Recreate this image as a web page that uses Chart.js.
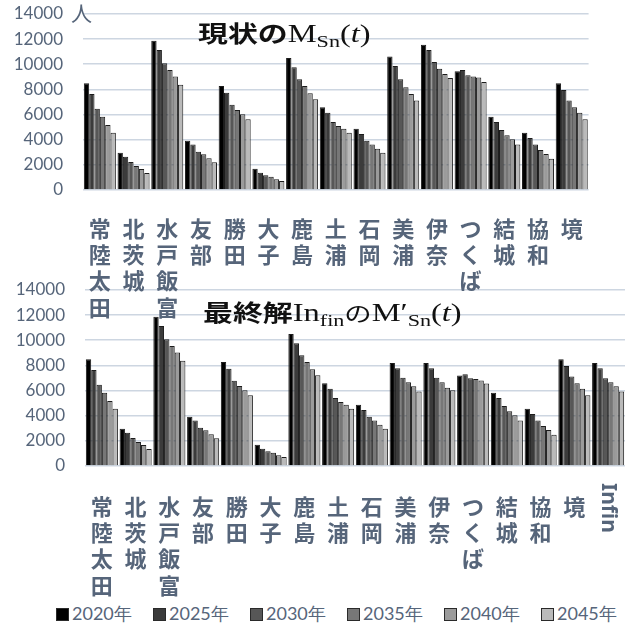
<!DOCTYPE html>
<html>
<head>
<meta charset="utf-8">
<script src="https://cdn.jsdelivr.net/npm/chart.js@4.4.1/dist/chart.umd.min.js"></script>
<style>
  body { margin: 0; background: #fff; width: 630px; height: 623px; position: relative; overflow: hidden; }
  #boxTop { position: absolute; left: 0; top: 0; width: 600px; height: 320px; z-index: 2; }
  #boxBottom { position: absolute; left: 0; top: 280px; width: 630px; height: 320px; z-index: 1; }
  .unit { position: absolute; left: 71px; top: -3px; font: 21px "Noto Sans CJK JP"; color: #56657a; z-index: 3; }
  .ttl { position: absolute; white-space: nowrap; z-index: 3; color: #111; transform: scaleX(1.3); transform-origin: left center; }
  .ttl .jp { font-family: "Noto Sans CJK JP"; font-weight: 700; font-size: 23px; }
  .ttl .jpl { font-family: "Noto Sans CJK JP"; font-weight: 400; font-size: 21px; }
  .ttl .m { font-family: "Liberation Serif"; font-size: 25px; }
  .ttl sub { font-size: 17px; vertical-align: -5px; line-height: 0; }
  #ttlTop { left: 198px; top: 15px; }
  #ttlBottom { left: 203px; top: 294px; }
  #legend { position: absolute; left: 56px; top: 602px; z-index: 3; display: flex; }
  #legend .item { width: 97px; display: flex; align-items: center; font: 18px Lato; color: #56657a; }
  #legend .sw { width: 11px; height: 11px; border: 1px solid #2a2a2a; margin-right: 3px; }
</style>
</head>
<body>
<div class="unit">人</div>
<div class="ttl" id="ttlTop"><span class="jp">現状の</span><span class="m">M<sub>Sn</sub>(<i>t</i>)</span></div>
<div class="ttl" id="ttlBottom"><span class="jp">最終解</span><span class="m">In<sub>fin</sub></span><span class="jpl">の</span><span class="m">M′<sub>Sn</sub>(<i>t</i>)</span></div>
<div id="boxTop"><canvas id="chartNow"></canvas></div>
<div id="boxBottom"><canvas id="chartFinal"></canvas></div>
<div id="legend"></div>

<script>
// 地区名
const cities = ['常陸太田', '北茨城', '水戸飯富', '友部', '勝田', '大子', '鹿島', '土浦', '石岡', '美浦', '伊奈', 'つくば', '結城', '協和', '境'];
const finalCities = [...cities, 'Infin'];
const years = ['2020年', '2025年', '2030年', '2035年', '2040年', '2045年'];
const yTicks = [0, 2000, 4000, 6000, 8000, 10000, 12000, 14000];

// 現状 (人)
const now2020 = [8490, 2970, 11880, 3920, 8270, 1700, 10500, 6580, 4880, 10610, 11560, 9440, 5830, 4560, 8490];
const now2025 = [7640, 2650, 11140, 3610, 7740, 1380, 9760, 6150, 4450, 9860, 11140, 9550, 5410, 4140, 7960];
const now2030 = [6470, 2230, 10080, 3050, 6790, 1170, 8800, 5410, 3920, 8800, 10180, 9120, 4770, 3610, 7110];
const now2035 = [5830, 1910, 9550, 2840, 6360, 1060, 8270, 5090, 3610, 8170, 9650, 9020, 4350, 3180, 6580];
const now2040 = [5170, 1670, 9020, 2520, 6020, 850, 7690, 4880, 3290, 7640, 9230, 8940, 4030, 2860, 6150];
const now2045 = [4560, 1350, 8380, 2200, 5620, 720, 7210, 4560, 2970, 7110, 8910, 8590, 3610, 2490, 5620];

// 最終解 (Infin を追加)
const fin2020 = [8490, 2970, 11880, 3920, 8270, 1700, 10500, 6580, 4880, 8200, 8200, 7200, 5830, 4560, 8490, 8200];
const fin2025 = [7640, 2650, 11140, 3610, 7740, 1380, 9760, 6150, 4450, 7780, 7780, 7300, 5410, 4140, 7960, 7780];
const fin2030 = [6470, 2230, 10080, 3050, 6790, 1170, 8800, 5410, 3920, 7010, 7010, 6980, 4770, 3610, 7110, 6980];
const fin2035 = [5830, 1910, 9550, 2840, 6360, 1060, 8270, 5090, 3610, 6670, 6670, 6930, 4350, 3180, 6580, 6670];
const fin2040 = [5170, 1670, 9020, 2520, 6020, 850, 7690, 4880, 3290, 6350, 6220, 6800, 4030, 2860, 6150, 6350];
const fin2045 = [4560, 1350, 8380, 2200, 5620, 720, 7210, 4560, 2970, 5930, 6030, 6560, 3610, 2490, 5620, 5930];

const fills = ['#000000', '#3b3b3b', '#575757', '#777777', '#9b9b9b', '#bababa'];
const tickColor = '#56657a';

function makeSets(rows) {
    return rows.map((d, i) => ({
        label: years[i],
        data: d,
        backgroundColor: fills[i],
        borderColor: '#1c1c1c',
        borderWidth: 1,
        categoryPercentage: 0.95,
        barPercentage: 1.0
    }));
}

// 縦書きにならないラベル (Infin) を回転して描く
const sideLabel = {
    id: 'sideLabel',
    afterDraw(chart, args, opts) {
        if (!opts.text) return;
        const { ctx, chartArea } = chart;
        const x = chart.scales.x.getPixelForValue(opts.index);
        ctx.save();
        ctx.translate(x, chartArea.bottom + 17);
        ctx.rotate(Math.PI / 2);
        ctx.font = 'bold 21px "Noto Sans"';
        ctx.fillStyle = tickColor;
        ctx.textAlign = 'left';
        ctx.textBaseline = 'middle';
        ctx.fillText(opts.text, 0, 0);
        ctx.restore();
    }
};

function makeChart(id, labels, rows, cfg) {
    return new Chart(document.getElementById(id), {
        type: 'bar',
        data: { labels: labels, datasets: makeSets(rows) },
        options: {
            responsive: true,
            maintainAspectRatio: false,
            animation: false,
            layout: { padding: { top: cfg.top, right: cfg.right, left: 0, bottom: 0 } },
            plugins: { legend: { display: false }, tooltip: { enabled: false }, sideLabel: cfg.side || {} },
            scales: {
                x: {
                    grid: { display: false },
                    border: { display: false },
                    ticks: {
                        padding: cfg.xPad,
                        maxRotation: 0,
                        autoSkip: false,
                        color: tickColor,
                        font: { family: '"Noto Sans CJK JP"', size: 22, weight: 'bold', lineHeight: 1.2 },
                        callback(v) {
                            const name = this.getLabelForValue(v);
                            return name === 'Infin' ? '' : [...name];
                        }
                    },
                    afterFit(scale) { scale.height = cfg.xHeight; }
                },
                y: {
                    min: 0,
                    max: 14000,
                    afterBuildTicks(scale) { scale.ticks = yTicks.map(v => ({ value: v })); },
                    grid: { color: '#cdd6e1', lineWidth: 1.6, drawTicks: false },
                    border: { display: false },
                    ticks: {
                        padding: 20,
                        autoSkip: false,
                        color: tickColor,
                        font: { family: 'Lato', size: 17 },
                        callback: v => String(v)
                    },
                    afterFit(scale) {
                        scale.width = cfg.yWidth;
                        // 目盛りラベルの余白で描画領域が縮まないようにする
                        scale.paddingTop = 0;
                        scale.paddingBottom = 0;
                    }
                }
            }
        },
        plugins: [sideLabel]
    });
}

makeChart('chartNow', cities,
    [now2020, now2025, now2030, now2035, now2040, now2045],
    { top: 14, right: 8, xPad: 17, xHeight: 130, yWidth: 83 });

makeChart('chartFinal', finalCities,
    [fin2020, fin2025, fin2030, fin2035, fin2040, fin2045],
    { top: 10, right: 5, xPad: 19, xHeight: 134, yWidth: 85, side: { text: 'Infin', index: 15 } });

// 凡例
const legend = document.getElementById('legend');
years.forEach((y, i) => {
    const item = document.createElement('div');
    item.className = 'item';
    item.innerHTML = `<span class="sw" style="background:${fills[i]}"></span>${y}`;
    legend.appendChild(item);
});
</script>
</body>
</html>
